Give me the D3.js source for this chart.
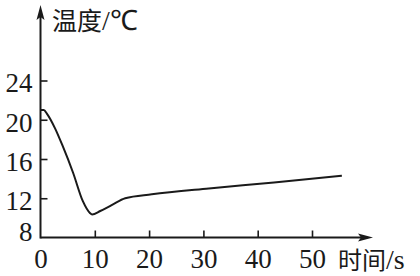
<!DOCTYPE html>
<html>
<head>
<meta charset="utf-8">
<script src="https://cdn.jsdelivr.net/npm/d3@7"></script>
<style>
  body { margin: 0; background: #fff; }
</style>
</head>
<body>
<script>
// time (s) and temperature (°C)
var times = [0, 0.6, 1.2, 2.7, 4.1, 6.0, 7.8, 9.1, 9.5, 11.0, 13.1, 15.6, 20.5, 31, 43, 55.5];
var temps = [21.0, 21.0, 20.6, 19.1, 17.3, 14.6, 11.7, 10.5, 10.35, 10.7, 11.3, 12.0, 12.4, 13.0, 13.6, 14.3];
var xTicks = [0, 10, 20, 30, 40, 50];
var yTicks = [8, 12, 16, 20, 24];

var W = 420, H = 276;
var serif = "'Liberation Serif'";
var cjk = "'Noto Sans CJK SC'";
var svg = d3.select("body").append("svg").attr("width", W).attr("height", H);

var x = d3.scaleLinear().domain([0, 50]).range([40.5, 312]);
var y = d3.scaleLinear().domain([8, 24]).range([237.5, 80.5]);
var xEnd = 373, yTop = 5;
var ink = "#1a1a1a";

// y ticks + labels
var gy = svg.append("g").attr("transform", "translate(" + x(0) + ",0)")
  .call(d3.axisLeft(y).tickValues(yTicks).tickSizeInner(-7).tickSizeOuter(0).tickPadding(8));
gy.select(".domain").remove();
gy.selectAll(".tick line").attr("stroke", ink).attr("stroke-width", 1.6)
  .attr("opacity", function(d) { return d === 8 ? 0 : 1; });
gy.selectAll(".tick text").style("font-size", "27px").style("font-family", serif).attr("fill", ink)
  .attr("dy", function(d) { return d === 8 ? "0.1em" : "0.42em"; });

// x ticks + labels
var gx = svg.append("g").attr("transform", "translate(0," + y(8) + ")")
  .call(d3.axisBottom(x).tickValues(xTicks).tickSizeInner(-7).tickSizeOuter(0).tickPadding(11));
gx.select(".domain").remove();
gx.selectAll(".tick line").attr("stroke", ink).attr("stroke-width", 1.6)
  .attr("opacity", function(d) { return d === 0 ? 0 : 1; });
gx.selectAll(".tick text").style("font-size", "27px").style("font-family", serif).attr("fill", ink)
  .attr("dy", "0.71em");

// axis lines with arrows
svg.append("line").attr("x1", x(0)).attr("y1", y(8) + 1).attr("x2", x(0)).attr("y2", yTop + 8)
  .attr("stroke", ink).attr("stroke-width", 2);
svg.append("line").attr("x1", x(0)).attr("y1", y(8)).attr("x2", xEnd - 8).attr("y2", y(8))
  .attr("stroke", ink).attr("stroke-width", 2);
svg.append("path").attr("fill", ink)
  .attr("d", "M" + x(0) + "," + yTop + "l-4,15l4,-3l4,3z");
svg.append("path").attr("fill", ink)
  .attr("d", "M" + xEnd + "," + y(8) + "l-15,-4l3,4l-3,4z");

// axis titles
var yt = svg.append("text").attr("x", 52).attr("y", 30).attr("fill", ink)
  .style("font-family", serif).style("font-size", "28px");
yt.append("tspan").style("font-family", cjk).style("font-size", "25px").text("温度");
yt.append("tspan").text("/℃");
var xt = svg.append("text").attr("x", 338).attr("y", 269).attr("fill", ink)
  .style("font-family", serif).style("font-size", "28px");
xt.append("tspan").style("font-family", cjk).style("font-size", "24px").text("时间");
xt.append("tspan").text("/s");

// curve
var pts = times.map(function(t, i) { return [t, temps[i]]; });
svg.append("path").datum(pts)
  .attr("fill", "none").attr("stroke", ink).attr("stroke-width", 2)
  .attr("stroke-linejoin", "round")
  .attr("d", d3.line().x(function(d) { return x(d[0]); }).y(function(d) { return y(d[1]); })
    .curve(d3.curveMonotoneX));
</script>
</body>
</html>
